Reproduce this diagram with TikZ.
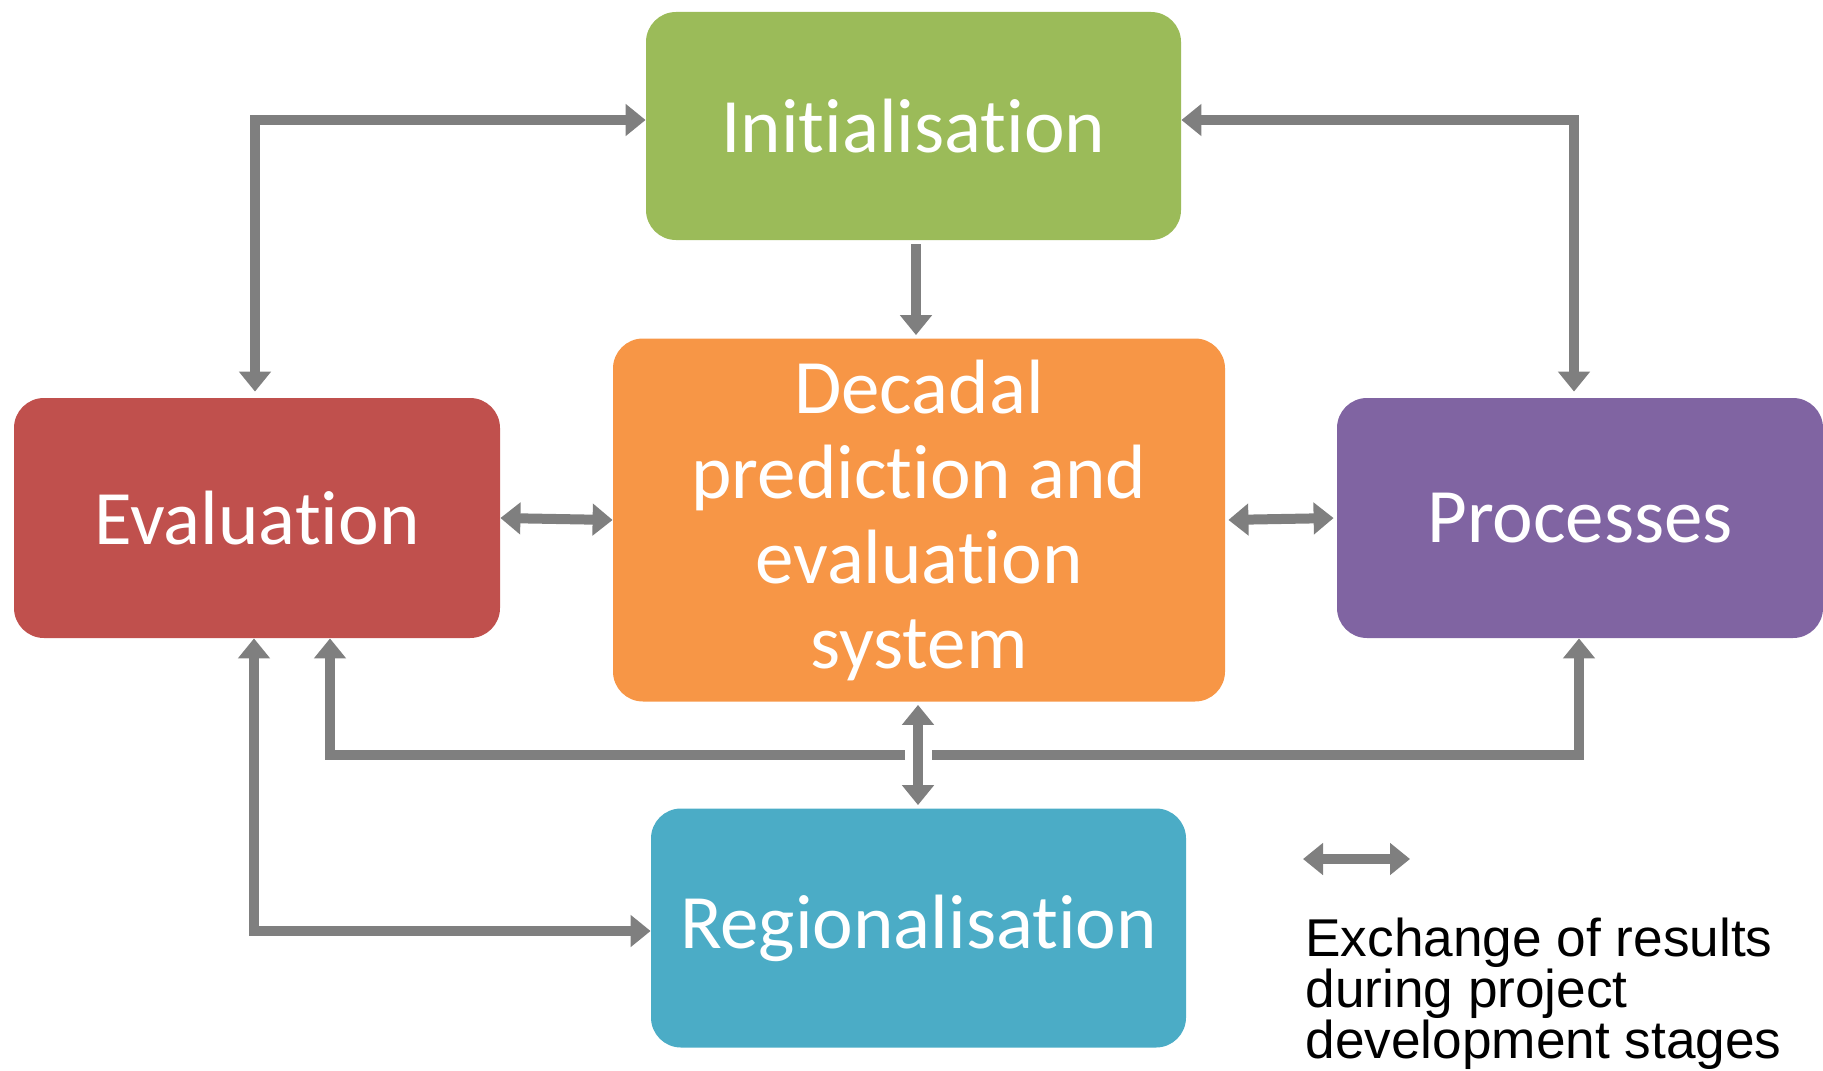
\documentclass[tikz,border=0pt]{standalone}
\usepackage{fontspec}
\newfontfamily\carlito[Ligatures=NoCommon,RawFeature={-liga;-dlig}]{Carlito}
\newfontfamily\arialf{Liberation Sans}
\usetikzlibrary{arrows.meta}
\definecolor{cgreen}{HTML}{9BBB59}
\definecolor{corange}{HTML}{F79646}
\definecolor{cred}{HTML}{C0504D}
\definecolor{cpurple}{HTML}{8064A2}
\definecolor{cblue}{HTML}{4BACC6}
\definecolor{cgray}{HTML}{7F7F7F}
\begin{document}
\begin{tikzpicture}[x=0.5pt,y=-0.5pt,
  box/.style={rounded corners=15pt, inner sep=0pt, text=white, align=center,
    font=\carlito\fontsize{38.5}{42.5}\selectfont},
  conn/.style={draw=cgray, line width=5pt},
  tip/.tip={Triangle[length=10pt,width=15.5pt]},
  both/.style={conn, {tip}-{tip}},
  fwd/.style={conn, -{tip}}]
\useasboundingbox (0,0) rectangle (1823,1070);
% boxes
\node[box, fill=cgreen, minimum width=267.5pt, minimum height=114pt] (init) at (913.5,126) {Initialisation};
\node[box, fill=corange, minimum width=306pt, minimum height=181.5pt] (dec) at (919,520) {Decadal\\prediction and\\evaluation\\system};
\node[box, fill=cred, minimum width=243pt, minimum height=120pt] (eval) at (257,518) {Evaluation};
\node[box, fill=cpurple, minimum width=243pt, minimum height=120pt] (proc) at (1580,518) {Processes};
\node[box, fill=cblue, minimum width=267.5pt, minimum height=119.5pt] (reg) at (918.5,928) {Regionalisation};
% helper coordinates
\coordinate (yt) at (0,120);
\coordinate (xl) at (255,0);
\coordinate (xr) at (1574,0);
\coordinate (xd) at (916,0);
\coordinate (xc) at (918,0);
\coordinate (yh) at (0,755);
\coordinate (hl) at (905,755);
\coordinate (hr) at (932,755);
\coordinate (xe) at (330,0);
\coordinate (xp) at (1579,0);
\coordinate (xb) at (254,0);
\coordinate (yb) at (0,931);
% connectors
\draw[both, shorten >=3pt] (init.west |- yt) -- (xl |- yt) -- (xl |- eval.north);
\draw[both, shorten >=3pt] (init.east |- yt) -- (xr |- yt) -- (xr |- proc.north);
\draw[fwd, shorten <=2pt, shorten >=1.5pt] (xd |- init.south) -- (xd |- dec.north);
\draw[both] (eval.east) -- (dec.west);
\draw[both, shorten <=1.5pt, shorten >=1.5pt] (dec.east) -- (proc.west);
\draw[both, shorten <=1.5pt, shorten >=1.5pt] (xc |- dec.south) -- (xc |- reg.north);
\draw[fwd] (hl) -- (xe |- yh) -- (xe |- eval.south);
\draw[fwd] (hr) -- (xp |- yh) -- (xp |- proc.south);
\draw[both] (xb |- eval.south) -- (xb |- yb) -- (reg.west |- yb);
% legend
\coordinate (la) at (1303,859);
\coordinate (lb) at (1410,859);
\draw[both] (la) -- (lb);
\node[anchor=north west, inner sep=0pt, align=left, text=black,
  font=\arialf\fontsize{26.6}{25.5}\selectfont] (legend) at (1305,918)
  {Exchange of results\\during project\\development stages};
\end{tikzpicture}
\end{document}
